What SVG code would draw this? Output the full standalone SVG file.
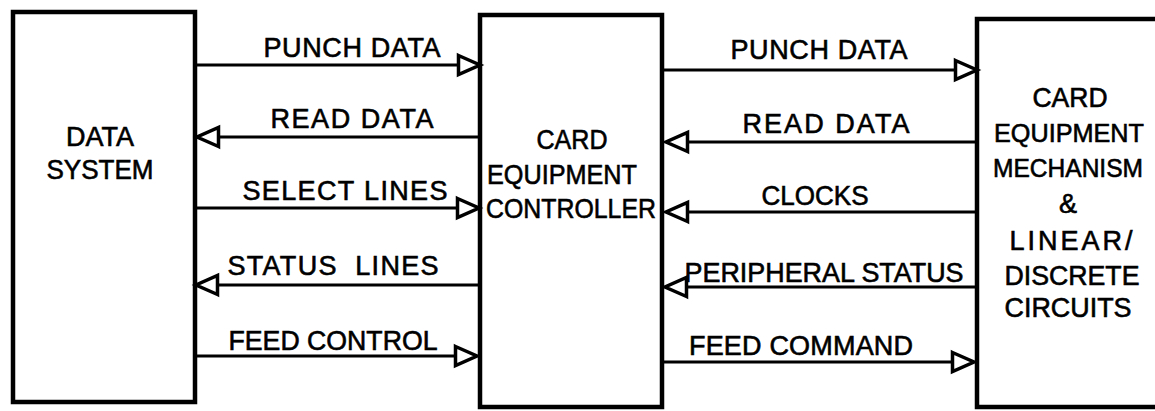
<svg xmlns="http://www.w3.org/2000/svg" width="1155" height="411" viewBox="0 0 1155 411">
<style>
.box{fill:#fff;stroke:#000;stroke-width:4.5}
.t{font-family:"Liberation Sans",Arial,sans-serif;font-size:27px;fill:#000;stroke:#000;stroke-width:0.6;text-anchor:middle}
.s{font-size:25px}
.c{stroke:#000;stroke-width:3;fill:none;marker-end:url(#ah)}
</style>
<defs>
<marker id="ah" markerUnits="userSpaceOnUse" markerWidth="30" markerHeight="30" refX="23" refY="11" orient="auto" overflow="visible">
<path d="M1.5,1.5 L23,11 L1.5,20.5 Z" fill="#fff" stroke="#000" stroke-width="3.5" stroke-linejoin="miter"/>
</marker>
</defs>
<rect width="1155" height="411" fill="#fff"/>
<g id="data-system">
<rect class="box" x="13" y="12" width="182" height="390"/>
<text class="t" x="100" y="146" textLength="68" lengthAdjust="spacingAndGlyphs">DATA</text>
<text class="t" x="100" y="179" textLength="107" lengthAdjust="spacingAndGlyphs">SYSTEM</text>
</g>
<g id="controller">
<rect class="box" x="480" y="15" width="182" height="392"/>
<text class="t" x="572" y="149" textLength="71" lengthAdjust="spacingAndGlyphs">CARD</text>
<text class="t" x="562" y="184" textLength="150" lengthAdjust="spacingAndGlyphs">EQUIPMENT</text>
<text class="t" x="571" y="218" textLength="170" lengthAdjust="spacingAndGlyphs">CONTROLLER</text>
</g>
<g id="mechanism">
<rect class="box" x="977" y="19" width="182" height="388"/>
<text class="t" x="1070" y="107" textLength="75" lengthAdjust="spacingAndGlyphs">CARD</text>
<text class="t s" x="1069" y="142" textLength="150" lengthAdjust="spacingAndGlyphs">EQUIPMENT</text>
<text class="t s" x="1068" y="177" textLength="150" lengthAdjust="spacingAndGlyphs">MECHANISM</text>
<text class="t" x="1068" y="213">&amp;</text>
<text class="t" x="1071" y="250" textLength="123" lengthAdjust="spacing">LINEAR/</text>
<text class="t" x="1072" y="285" textLength="135" lengthAdjust="spacingAndGlyphs">DISCRETE</text>
<text class="t" x="1068" y="317" textLength="127" lengthAdjust="spacingAndGlyphs">CIRCUITS</text>
</g>
<g id="connectors">
<line class="c" x1="195" y1="65" x2="480" y2="65"/>
<line class="c" x1="480" y1="137" x2="197" y2="137"/>
<line class="c" x1="195" y1="208" x2="479" y2="208"/>
<line class="c" x1="480" y1="285" x2="196" y2="285"/>
<line class="c" x1="195" y1="356" x2="477" y2="356"/>
<line class="c" x1="662" y1="70" x2="977" y2="70"/>
<line class="c" x1="977" y1="142" x2="666" y2="142"/>
<line class="c" x1="977" y1="212" x2="666" y2="212"/>
<line class="c" x1="977" y1="287" x2="665" y2="287"/>
<line class="c" x1="662" y1="362" x2="974" y2="362"/>
<text class="t" x="352" y="57" textLength="177" lengthAdjust="spacing">PUNCH DATA</text>
<text class="t" x="352" y="128" textLength="163" lengthAdjust="spacing">READ DATA</text>
<text class="t" x="345" y="200" textLength="205" lengthAdjust="spacing">SELECT LINES</text>
<text class="t" x="333" y="275" textLength="211" lengthAdjust="spacing" xml:space="preserve">STATUS  LINES</text>
<text class="t" x="333" y="350" textLength="209" lengthAdjust="spacingAndGlyphs">FEED CONTROL</text>
<text class="t" x="819" y="59" textLength="177" lengthAdjust="spacing">PUNCH DATA</text>
<text class="t" x="826" y="133" textLength="167" lengthAdjust="spacing">READ DATA</text>
<text class="t" x="815" y="205" textLength="107" lengthAdjust="spacingAndGlyphs">CLOCKS</text>
<text class="t" x="824" y="282" textLength="279" lengthAdjust="spacingAndGlyphs">PERIPHERAL STATUS</text>
<text class="t" x="801" y="355" textLength="224" lengthAdjust="spacing">FEED COMMAND</text>
</g>
</svg>
